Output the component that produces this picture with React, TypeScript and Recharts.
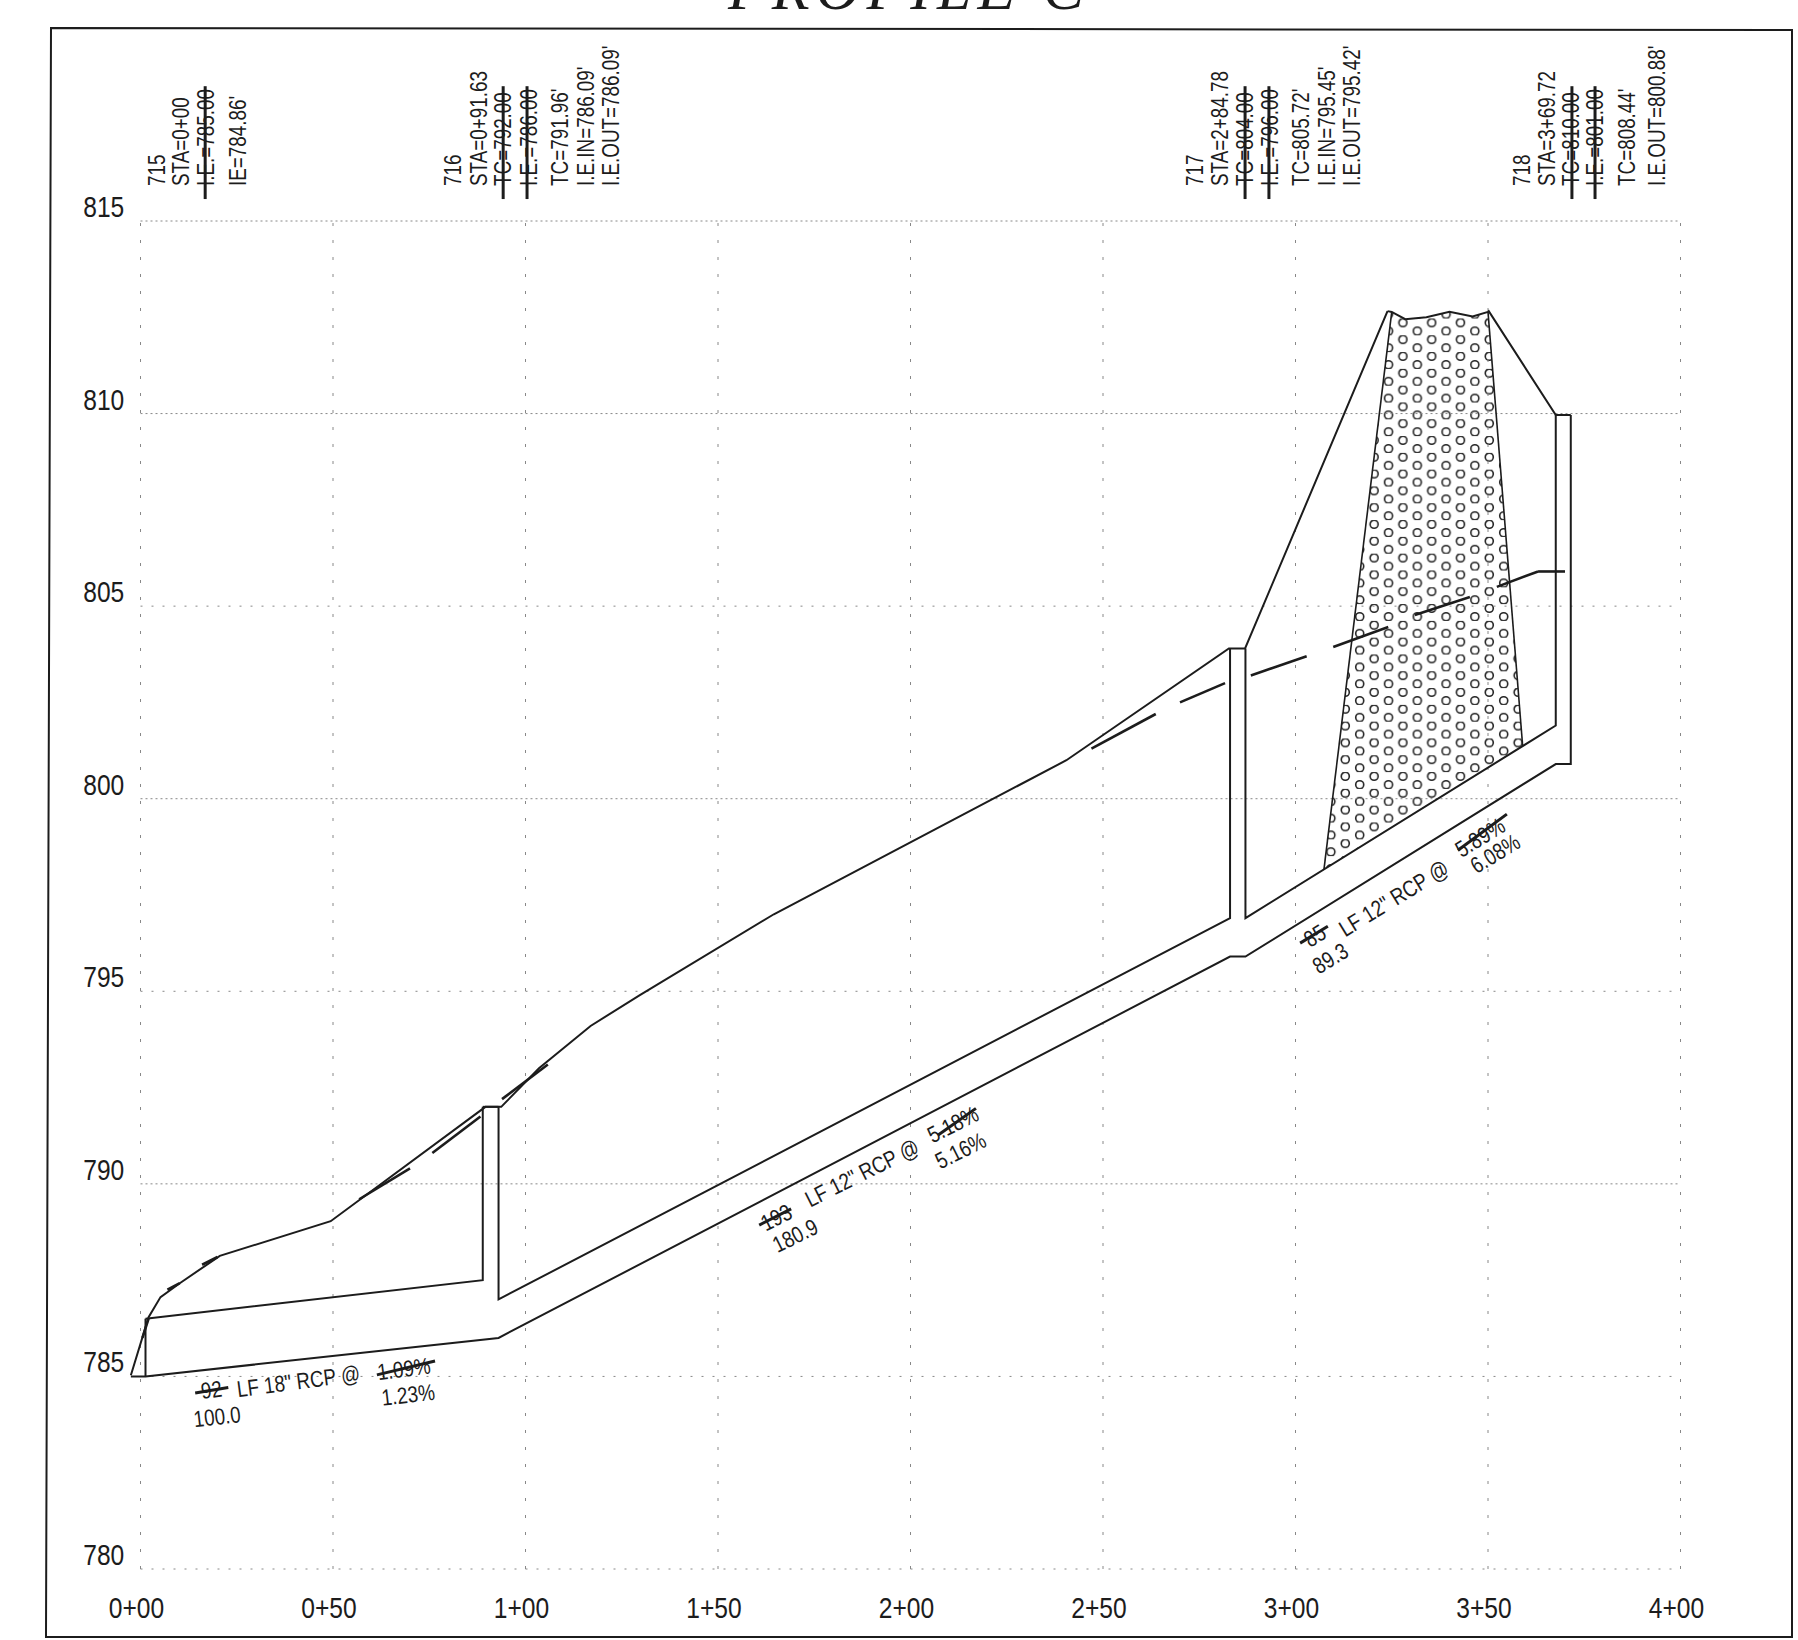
import { Area, ComposedChart, Line, ReferenceDot, ReferenceLine, XAxis, YAxis } from "recharts";

const stationTicks = [0, 50, 100, 150, 200, 250, 300, 350, 400];
const elevationTicks = [780, 785, 790, 795, 800, 805, 810, 815];

const groundStations = [-2.5, 2.1, 5.2, 10.2, 20.6, 49.4, 89.6, 93.7, 103.5, 116.9, 129.7, 164.5, 240.5, 282.7, 286.9, 323.9];
const groundElevations = [785.03, 786.54, 787.06, 787.42, 788.13, 789.03, 792.0, 792.0, 793.0, 794.1, 794.9, 797.0, 801.0, 803.9, 803.9, 812.66];
const moundStations = [323.9, 325, 328.5, 334, 340, 346, 350, 350.2, 367.6, 371.5];
const moundElevations = [812.66, 812.64, 812.45, 812.5, 812.64, 812.52, 812.64, 812.66, 809.96, 809.96];

const crownLeftStations = [1.3, 88.9, 88.9];
const crownLeftElevations = [786.5, 787.5, 792.0];
const crownMidStations = [93, 93, 283, 283];
const crownMidElevations = [792.0, 787.0, 796.9, 803.9];
const crownRightStations = [287, 287, 367.6, 367.6];
const crownRightElevations = [803.9, 796.9, 801.9, 809.96];
const inletStations = [1.3, 1.3];
const inletElevations = [785.0, 786.5];
const invertStations = [-2.5, 1.3, 93, 283, 287, 367.6, 371.5, 371.5];
const invertElevations = [785.0, 785.0, 786.0, 795.9, 795.9, 800.9, 800.9, 809.96];
const lidStations = [88.9, 93];
const lidElevations = [792.0, 792.0];

const proposedDashes = [
  [[0.5, 786.0], [2.1, 786.5]],
  [[7, 787.25], [10.2, 787.42]],
  [[16, 787.9], [20, 788.1]],
  [[56.8, 789.6], [70, 790.4]],
  [[75.8, 790.8], [88.3, 791.75]],
  [[93.9, 792.2], [105.8, 793.1]],
  [[247, 801.3], [263.7, 802.2]],
  [[270, 802.5], [281.7, 803.0]],
  [[288.4, 803.2], [302.9, 803.7]],
  [[309.8, 803.94], [324.1, 804.46]],
  [[331, 804.77], [345.3, 805.24]],
  [[352.3, 805.5], [363, 805.9], [370, 805.9]],
];

const gravelStations = [307.4, 325, 328.5, 334, 340, 346, 350, 359];
const gravelTops = [798.17, 812.64, 812.45, 812.5, 812.64, 812.52, 812.64, 801.37];
const gravelBottoms = [798.17, 799.26, 799.47, 799.82, 800.19, 800.56, 800.81, 801.37];

const structureLabels = [
  "715", "STA=0+00", "I.E.=785.00", "IE=784.86'",
  "716", "STA=0+91.63", "TC=792.00", "I.E.=786.00", "TC=791.96'", "I.E.IN=786.09'", "I.E.OUT=786.09'",
  "717", "STA=2+84.78", "TC=804.00", "I.E.=796.00", "TC=805.72'", "I.E.IN=795.45'", "I.E.OUT=795.42'",
  "718", "STA=3+69.72", "TC=810.00", "I.E.=801.00", "TC=808.44'", "I.E.OUT=800.88'",
];
const structureLabelStations = [
  6.4, 12.7, 19, 27.3,
  83.2, 90, 96.2, 103, 111, 117.8, 124.3,
  276, 282.5, 288.9, 295.4, 303.5, 310.2, 316.7,
  360.9, 367.5, 373.6, 379.9, 388.3, 395.9,
];
const structureLabelElevation = 815.91;
const structureStrikeStations = [16.8, 94.2, 100.4, 286.9, 293.1, 371.8, 377.8];

const pipeLabels = ["92", 'LF 18" RCP @', "1.09%", "100.0", "1.23%", "193", 'LF 12" RCP @', "5.18%", "180.9", "5.16%", "85", 'LF 12" RCP @', "5.89%", "6.08%", "89.3"];
const pipeLabelStations = [18.4, 41, 68.4, 19.9, 69.5, 165.1, 187.4, 211, 170, 213, 305, 325.5, 347.9, 351.8, 309];
const pipeLabelElevations = [784.66, 784.88, 785.2, 783.96, 784.53, 789.13, 790.29, 791.55, 788.66, 790.87, 796.45, 797.42, 799, 798.58, 795.86];
const pipeLabelAngles = [-7.5, -7.5, -7.5, -6.5, -6.5, -26.5, -26.5, -26.5, -26.5, -26.5, -31.5, -31.5, -31.5, -31.5, -31.5];
const pipeStrikes = [
  [[14.2, 784.57], [22.8, 784.71]],
  [[61.4, 785.04], [76.5, 785.4]],
  [[160.7, 788.93], [169, 789.35]],
  [[207.1, 791.26], [217, 791.96]],
  [[301.2, 796.25], [308.4, 796.69]],
  [[342.2, 798.66], [354.9, 799.6]],
];

const INK = "#1c1c1c";
const FONT = "'Liberation Sans', sans-serif";
const NARROW = 0.82; // plotter lettering is condensed

const zip = (xs: number[], ys: number[]) => xs.map((x, i) => ({ x, y: ys[i] }));
const stationFormat = (v: number) => `${Math.floor(v / 100)}+${String(v % 100).padStart(2, "0")}`;

function NarrowText({ x, y, angle = 0, anchor, size, central, children }: any) {
  return (
    <text
      transform={`translate(${x},${y}) rotate(${angle}) scale(${NARROW},1)`}
      textAnchor={anchor}
      dominantBaseline={central ? "central" : undefined}
      fontSize={size}
      fontFamily={FONT}
      fill={INK}
    >
      {children}
    </text>
  );
}

function XTick({ x, y, payload }: any) {
  return <NarrowText x={x - 4} y={y + 49} anchor="middle" size={30}>{stationFormat(payload.value)}</NarrowText>;
}

function LeftTick({ x, y, payload }: any) {
  return <NarrowText x={x + 3} y={y - 4} anchor="end" size={30}>{payload.value}</NarrowText>;
}

function RightTick({ x, y, payload }: any) {
  return <NarrowText x={x + 16} y={y - 3} anchor="start" size={30}>{payload.value}</NarrowText>;
}

export default function App() {
  const heavyLine = (a: number[], b: number[], key: string, width = 3) => (
    <ReferenceLine
      key={key}
      yAxisId="left"
      segment={[
        { x: a[0], y: a[1] },
        { x: b[0], y: b[1] },
      ]}
      stroke={INK}
      strokeWidth={width}
      ifOverflow="visible"
    />
  );

  return (
    <div style={{ position: "absolute", left: 0, top: 0, width: 1798, height: 1640, background: "#fff" }}>
      <svg width={1798} height={1640} style={{ position: "absolute", left: 0, top: 0 }}>
        <polygon points="51,28 1792,30 1792,1637 46,1637" fill="none" stroke={INK} strokeWidth={2} />
        <text x={909} y={9} textAnchor="middle" fontSize={62} fontStyle="italic" letterSpacing={6} fontFamily="'Liberation Serif', serif" fill={INK}>
          PROFILE  C
        </text>
      </svg>
      <ComposedChart
        width={1798}
        height={1640}
        margin={{ top: 221, right: 57.5, bottom: 21, left: 61.25 }}
        data={gravelStations.map((x, i) => ({ x, range: [gravelBottoms[i], gravelTops[i]] }))}
        style={{ position: "absolute", left: 0, top: 0 }}
      >
        <defs>
          <pattern id="gravel" patternUnits="userSpaceOnUse" x={1424.5} y={318.5} width={28.8} height={16.8}>
            <circle cx={7.2} cy={4.2} r={4} fill="none" stroke="#222" strokeWidth={1.6} />
            <circle cx={21.6} cy={12.6} r={4} fill="none" stroke="#222" strokeWidth={1.6} />
          </pattern>
        </defs>
        <XAxis dataKey="x" type="number" domain={[-5, 400]} ticks={stationTicks} height={50} axisLine={false} tickLine={false} tickSize={0} tickMargin={0} tick={<XTick />} interval={0} allowDuplicatedCategory />
        <YAxis yAxisId="left" orientation="left" type="number" domain={[780, 815]} ticks={elevationTicks} width={60} axisLine={false} tickLine={false} tickSize={0} tickMargin={0} tick={<LeftTick />} interval={0} />
        <YAxis yAxisId="right" orientation="right" type="number" domain={[780, 815]} ticks={elevationTicks} width={60} axisLine={false} tickLine={false} tickSize={0} tickMargin={0} tick={<RightTick />} interval={0} />

        {elevationTicks.map((e) => (
          <ReferenceLine key={`h-${e}`} yAxisId="left" segment={[{ x: 0, y: e }, { x: 400, y: e }]} stroke="#888" strokeWidth={1} strokeDasharray={e === 815 || e === 810 || e === 800 || e === 790 ? "2 3" : "2 9"} />
        ))}
        {stationTicks.map((s) => (
          <ReferenceLine key={`v-${s}`} yAxisId="left" x={s} stroke="#888" strokeWidth={1} strokeDasharray="3 14" />
        ))}

        <Area yAxisId="left" dataKey="range" type="linear" fill="url(#gravel)" fillOpacity={1} stroke="none" isAnimationActive={false} dot={false} activeDot={false} />

        {[
          zip(groundStations, groundElevations),
          zip(moundStations, moundElevations),
          zip(crownLeftStations, crownLeftElevations),
          zip(crownMidStations, crownMidElevations),
          zip(crownRightStations, crownRightElevations),
          zip(inletStations, inletElevations),
          zip(invertStations, invertElevations),
          zip(lidStations, lidElevations),
          zip(gravelStations.slice(0, 2), gravelTops.slice(0, 2)),
          zip(gravelStations.slice(6), gravelTops.slice(6)),
        ].map((d, i) => (
          <Line key={`profile-${i}`} yAxisId="left" data={d} dataKey="y" type="linear" stroke={INK} strokeWidth={i > 7 ? 1.6 : 2} dot={false} activeDot={false} legendType="none" isAnimationActive={false} />
        ))}

        {proposedDashes.flatMap((d, i) =>
          d.slice(1).map((p, k) => heavyLine(d[k], p, `dash-${i}-${k}`, 2.6))
        )}
        {pipeStrikes.map((d, i) => heavyLine(d[0], d[1], `pipe-strike-${i}`))}
        {structureStrikeStations.map((s) => heavyLine([s, 815.57], [s, 818.5], `strike-${s}`))}

        {structureLabels.map((t, i) => (
          <ReferenceDot
            key={`sl-${i}`}
            yAxisId="left"
            x={structureLabelStations[i]}
            y={structureLabelElevation}
            r={0}
            ifOverflow="visible"
            shape={(p: any) => <NarrowText x={p.cx} y={p.cy} angle={-90} anchor="start" size={23}>{t}</NarrowText>}
          />
        ))}
        {pipeLabels.map((t, i) => (
          <ReferenceDot
            key={`pl-${i}`}
            yAxisId="left"
            x={pipeLabelStations[i]}
            y={pipeLabelElevations[i]}
            r={0}
            ifOverflow="visible"
            shape={(p: any) => <NarrowText x={p.cx} y={p.cy} angle={pipeLabelAngles[i]} anchor="middle" size={23} central>{t}</NarrowText>}
          />
        ))}
      </ComposedChart>
    </div>
  );
}
